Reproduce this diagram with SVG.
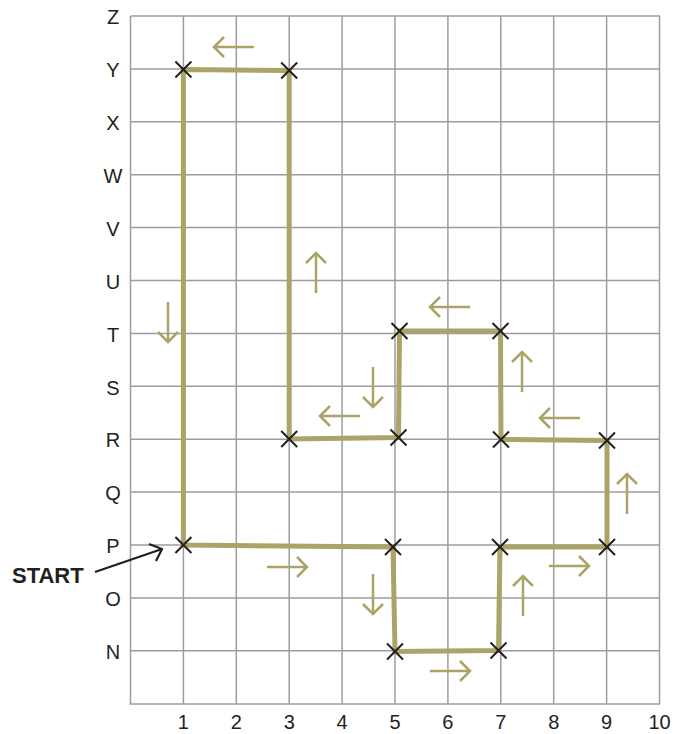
<svg xmlns="http://www.w3.org/2000/svg" width="680" height="734" viewBox="0 0 680 734">
<defs>
<style>
.grid{stroke:#9d9d9d;stroke-width:1.5;fill:none}
.lbl{font-family:"Liberation Sans",Arial,sans-serif;font-size:20px;fill:#231f20;text-anchor:middle}
.route{stroke:#aba466;stroke-width:5;fill:none;stroke-linejoin:miter}
.x{stroke:#231f20;stroke-width:2;fill:none}
.dir{stroke:#aba466;stroke-width:2.5;fill:none;stroke-linecap:butt}
.start{font-family:"Liberation Sans",Arial,sans-serif;font-size:22px;font-weight:bold;fill:#231f20}
</style>
<path id="xm" class="x" d="M-8,-8L8,8M-8,8L8,-8"/>
<path id="ar" class="dir" d="M-20,0H20M10,-10L20,0L10,10"/>
</defs>
<g id="grid">
<path class="grid" d="M130.5,16V704H659.5V16H130.5M183.4,16V704M236.3,16V704M289.2,16V704M342.1,16V704M395,16V704M447.9,16V704M500.8,16V704M553.7,16V704M606.6,16V704M130.5,68.9H659.5M130.5,121.8H659.5M130.5,174.7H659.5M130.5,227.6H659.5M130.5,280.5H659.5M130.5,333.4H659.5M130.5,386.3H659.5M130.5,439.2H659.5M130.5,492.1H659.5M130.5,545H659.5M130.5,597.9H659.5M130.5,650.8H659.5"/>
</g>
<g id="row-labels">
<text class="lbl" x="113" y="24">Z</text>
<text class="lbl" x="113" y="77">Y</text>
<text class="lbl" x="113" y="130">X</text>
<text class="lbl" x="113" y="183">W</text>
<text class="lbl" x="113" y="236">V</text>
<text class="lbl" x="113" y="289">U</text>
<text class="lbl" x="113" y="342">T</text>
<text class="lbl" x="113" y="395">S</text>
<text class="lbl" x="113" y="447">R</text>
<text class="lbl" x="113" y="500">Q</text>
<text class="lbl" x="113" y="553">P</text>
<text class="lbl" x="113" y="606">O</text>
<text class="lbl" x="113" y="659">N</text>
</g>
<g id="col-labels">
<text class="lbl" x="183.4" y="729">1</text>
<text class="lbl" x="236.3" y="729">2</text>
<text class="lbl" x="289.2" y="729">3</text>
<text class="lbl" x="342.1" y="729">4</text>
<text class="lbl" x="395" y="729">5</text>
<text class="lbl" x="447.9" y="729">6</text>
<text class="lbl" x="500.8" y="729">7</text>
<text class="lbl" x="553.7" y="729">8</text>
<text class="lbl" x="606.6" y="729">9</text>
<text class="lbl" x="659.5" y="729">10</text>
</g>
<g id="connectors">
<path id="route" class="route" d="M183.4,545L393,547L395,651.5L498.5,650.5L500,547H607V440.5L501,439.5L500.5,331H399.5L398.5,437.5L289.2,439V70.5L183.4,69.5Z"/>
<g id="direction-arrows">
<use href="#ar" transform="translate(234,47) rotate(180)"/>
<use href="#ar" transform="translate(168,322) rotate(90)"/>
<use href="#ar" transform="translate(316,273) rotate(-90)"/>
<use href="#ar" transform="translate(340,416) rotate(180)"/>
<use href="#ar" transform="translate(373,387) rotate(90)"/>
<use href="#ar" transform="translate(450,307) rotate(180)"/>
<use href="#ar" transform="translate(522,372) rotate(-90)"/>
<use href="#ar" transform="translate(560,418) rotate(180)"/>
<use href="#ar" transform="translate(627,494) rotate(-90)"/>
<use href="#ar" transform="translate(287,567)"/>
<use href="#ar" transform="translate(373,594) rotate(90)"/>
<use href="#ar" transform="translate(523,596) rotate(-90)"/>
<use href="#ar" transform="translate(569,566)"/>
<use href="#ar" transform="translate(450,671)"/>
</g>
<g id="start-arrow">
<path stroke="#231f20" stroke-width="2.2" fill="none" d="M95,572L162,549M149,544L162,549L156,561"/>
</g>
</g>
<g id="waypoints">
<use href="#xm" x="183.4" y="545"/>
<use href="#xm" x="393" y="547"/>
<use href="#xm" x="395" y="651.5"/>
<use href="#xm" x="498.5" y="650.5"/>
<use href="#xm" x="500" y="547"/>
<use href="#xm" x="607" y="547"/>
<use href="#xm" x="607" y="440.5"/>
<use href="#xm" x="501" y="439.5"/>
<use href="#xm" x="500.5" y="331"/>
<use href="#xm" x="399.5" y="331"/>
<use href="#xm" x="398.5" y="437.5"/>
<use href="#xm" x="289.2" y="439"/>
<use href="#xm" x="289.2" y="70.5"/>
<use href="#xm" x="183.4" y="69.5"/>
</g>
<g id="start-label">
<text class="start" x="12" y="583">START</text>
</g>
</svg>
